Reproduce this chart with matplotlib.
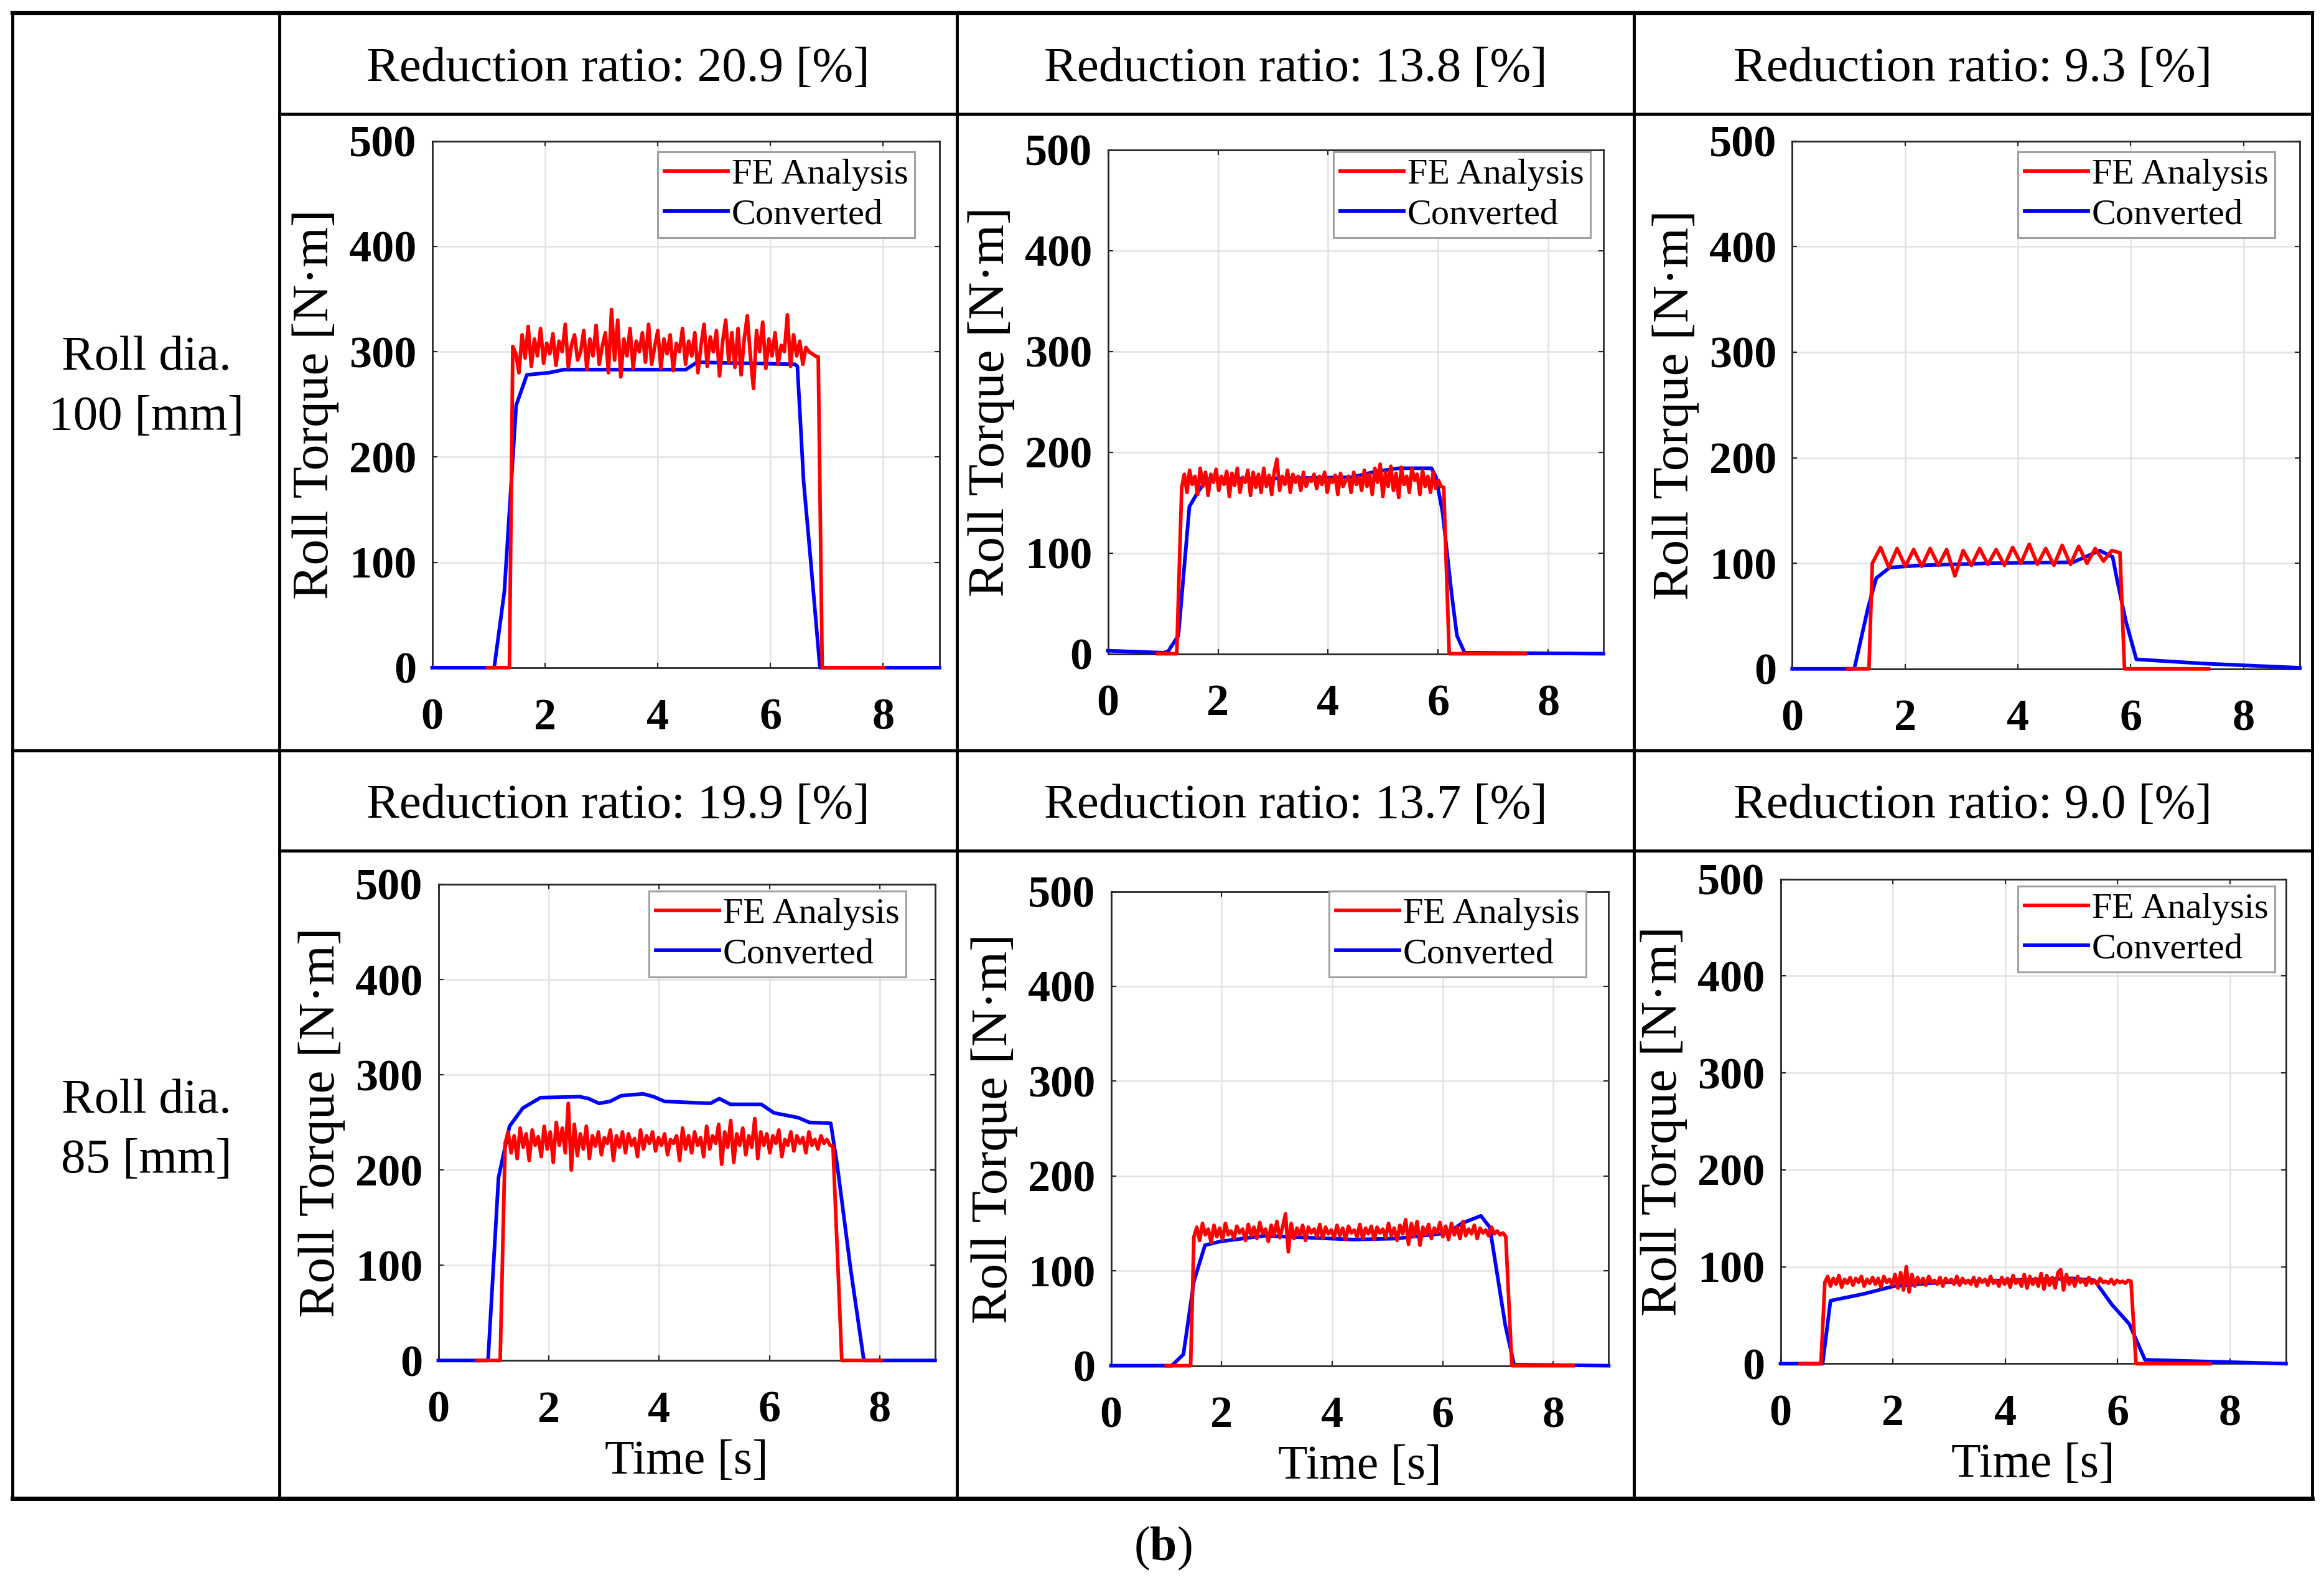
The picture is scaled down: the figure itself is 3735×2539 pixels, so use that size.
import numpy as np
import matplotlib
matplotlib.use("Agg")
import matplotlib.pyplot as plt
from matplotlib.lines import Line2D

W, H = 3735, 2539
DPI = 100

plt.rcParams["font.family"] = ["Liberation Serif", "DejaVu Serif"]
plt.rcParams["mathtext.fontset"] = "custom"
plt.rcParams["mathtext.rm"] = "Liberation Serif"
plt.rcParams["mathtext.bf"] = "Liberation Serif:bold"

ratios = ["20.9", "13.8", "9.3", "19.9", "13.7", "9.0"]
roll_dias = ["100", "85"]
xticks = [0, 2, 4, 6, 8]
yticks = [0, 100, 200, 300, 400, 500]

# Converted torque (blue), time [s] / torque [N*m]
conv_t = [
    [0, 1.10, 1.28, 1.49, 1.68, 2.07, 2.34, 4.50, 4.70, 6.44, 6.48, 6.59, 6.71, 6.88, 9.0],
    [0, 1.0, 1.09, 1.28, 1.48, 1.63, 1.80, 4.42, 4.89, 5.29, 5.88, 5.96, 6.08, 6.24, 6.34, 6.48, 9.0],
    [0, 1.10, 1.34, 1.49, 1.73, 2.27, 3.50, 4.98, 5.45, 5.68, 5.76, 5.91, 6.10, 7.30, 9.0],
    [0, 0.90, 1.09, 1.29, 1.53, 1.85, 2.56, 2.72, 2.91, 3.11, 3.31, 3.71, 3.90, 4.10, 4.93,
     5.09, 5.29, 5.85, 6.08, 6.52, 6.72, 7.11, 7.23, 7.47, 7.71, 9.0],
    [0, 1.10, 1.31, 1.50, 1.70, 1.98, 2.77, 3.56, 4.36, 5.15, 6.10, 6.34, 6.69, 6.85, 6.97, 7.13, 7.29, 9.0],
    [0, 0.75, 0.89, 1.48, 2.02, 2.87, 4.04, 5.20, 5.59, 5.90, 6.21, 6.49, 9.0],
]
conv_v = [
    [0, 0, 72, 249, 278, 280, 283, 283, 290, 288, 286, 177, 105, 0, 0],
    [3, 1, 2, 18, 146, 160, 173, 175, 181, 184, 184, 175, 140, 61, 18, 1, 0],
    [0, 0, 57, 86, 96, 98, 100, 101, 112, 106, 84, 46, 9, 5, 1],
    [0, 0, 192, 246, 265, 276, 277, 275, 270, 272, 278, 280, 277, 272, 270,
     275, 269, 269, 260, 255, 250, 249, 204, 96, 0, 0],
    [0, 0, 12, 89, 127, 131, 137, 135, 133, 134, 140, 150, 158, 146, 102, 43, 1, 0],
    [0, 0, 65, 72, 80, 84, 86, 88, 86, 61, 41, 4, 0],
]

# FE analysis (red): zero lead-in (start, rise), sampled plateau (first, last), zero tail (drop, end)
fe_lead = [(0.98, 1.37), (0.90, 1.25), (0.98, 1.36), (0.70, 1.12), (1.00, 1.44), (0.35, 0.72)]
fe_span = [(1.43, 6.85), (1.34, 6.10), (1.42, 5.81), (1.21, 7.15), (1.50, 7.14), (0.79, 6.24)]
fe_tail = [(6.92, 8.00), (6.20, 7.59), (5.89, 7.38), (7.31, 8.02), (7.25, 8.36), (6.33, 7.65)]

fe_vals = [
    [305, 298, 280, 316, 294, 324, 286, 312, 296, 322,
     289, 308, 298, 317, 287, 310, 300, 326, 285, 306,
     316, 292, 300, 320, 283, 312, 296, 325, 288, 305,
     318, 280, 340, 292, 330, 276, 312, 296, 322, 284,
     310, 300, 318, 290, 326, 288, 305, 320, 284, 312,
     298, 316, 282, 308, 300, 322, 288, 310, 296, 318,
     280, 306, 326, 286, 314, 300, 320, 277, 309, 330,
     290, 318, 285, 322, 278, 312, 334, 296, 265, 320,
     300, 328, 284, 312, 296, 318, 288, 306, 300, 335,
     286, 316, 296, 310, 288, 304, 300, 298, 296, 295],
    [165, 178, 160, 182, 168, 176, 158, 184, 166, 180,
     157, 178, 170, 183, 162, 176, 168, 181, 156, 179,
     167, 184, 160, 175, 170, 182, 157, 180, 165, 178,
     160, 184, 166, 177, 158, 181, 193, 162, 176, 168,
     182, 160, 178, 170, 176, 162, 180, 166, 174, 171,
     178, 164, 176, 168, 180, 160, 174, 170, 177, 158,
     179, 166, 172, 176, 160, 180, 168, 175, 162, 182,
     166, 178, 158, 184, 170, 188, 156, 180, 166, 186,
     162, 179, 155, 185, 168, 176, 160, 184, 172, 178,
     158, 182, 166, 176, 160, 180, 164, 172, 166, 165],
    [100, 115, 96, 114, 97, 113, 97, 114, 98, 113, 88, 112, 98, 114, 99, 113,
     98, 115, 100, 118, 99, 114, 98, 117, 99, 116, 100, 114, 102, 112, 110],
    [228, 240, 218, 236, 212, 244, 224, 238, 210, 242,
     226, 235, 214, 246, 222, 240, 208, 250, 226, 244,
     218, 270, 200, 248, 215, 238, 222, 246, 212, 236,
     225, 240, 216, 234, 228, 242, 210, 236, 224, 240,
     218, 238, 226, 233, 214, 242, 222, 236, 228, 240,
     220, 234, 226, 238, 216, 232, 228, 236, 210, 244,
     222, 236, 218, 240, 226, 234, 214, 246, 222, 236,
     228, 248, 206, 240, 224, 252, 208, 238, 226, 244,
     216, 236, 224, 254, 212, 240, 226, 238, 218, 236,
     228, 242, 214, 232, 226, 240, 220, 236, 228, 234,
     218, 240, 226, 232, 222, 236, 228, 232, 226, 225],
    [136, 146, 132, 150, 138, 144, 130, 148, 136, 145,
     133, 150, 138, 142, 134, 147, 140, 144, 132, 149,
     137, 146, 134, 151, 139, 144, 131, 148, 137, 152,
     135, 146, 160, 120, 150, 134, 145, 138, 148, 132,
     146, 140, 144, 136, 149, 134, 146, 139, 143, 135,
     148, 137, 145, 133, 147, 140, 143, 136, 149, 134,
     145, 139, 147, 133, 146, 140, 144, 135, 150, 137,
     145, 132, 148, 139, 154, 128, 150, 136, 152, 127,
     146, 138, 149, 134, 145, 140, 151, 136, 147, 133,
     150, 138, 146, 134, 152, 137, 144, 139, 148, 134,
     145, 140, 143, 137, 146, 139, 142, 138, 140, 136],
    [84, 90, 80, 88, 82, 91, 79, 87, 83, 89,
     81, 88, 84, 90, 80, 87, 83, 89, 82, 88,
     79, 90, 84, 87, 81, 92, 78, 94, 76, 100,
     74, 92, 80, 89, 83, 88, 81, 90, 84, 86,
     82, 89, 80, 88, 84, 87, 82, 90, 81, 88,
     83, 86, 82, 89, 80, 88, 84, 87, 81, 90,
     83, 86, 80, 89, 82, 88, 79, 91, 83, 87,
     80, 92, 78, 90, 82, 88, 80, 93, 77, 91,
     81, 89, 78, 94, 97, 76, 92, 82, 88, 80,
     90, 84, 87, 81, 89, 83, 86, 82, 88, 84,
     85, 83, 87, 82, 86, 84, 85, 83, 86, 85],
]

# layout in pixels of the reference image
axes_px = [(694.6, 226.6, 1509.8, 1072.9), (1780.6, 240.6, 2576.8, 1050.5),
           (2880.4, 226.6, 3696.3, 1074.8), (704.5, 1421.0, 1502.8, 2186.3),
           (1785.5, 1432.5, 2585.3, 2194.6), (2861.5, 1412.7, 3673.9, 2191.4)]
legend_px = [(1470, 244), (2556, 244), (3656, 244), (1456, 1432), (2549, 1432), (3656, 1424)]
col_x = [20, 449, 1538, 2626, 3716]
row_y = [21, 183, 1206, 1367, 2408]


def fx(x):
    return x / W


def fy(y):
    return 1 - y / H


def hline(fig, y, x0, x1, lw=3.5):
    fig.add_artist(Line2D([fx(x0), fx(x1)], [fy(y), fy(y)], transform=fig.transFigure,
                          color="black", lw=lw, solid_capstyle="projecting"))


def vline(fig, x, y0, y1, lw=3.5):
    fig.add_artist(Line2D([fx(x), fx(x)], [fy(y0), fy(y1)], transform=fig.transFigure,
                          color="black", lw=lw, solid_capstyle="projecting"))


def draw_table(fig):
    hline(fig, row_y[0], col_x[0], col_x[-1], lw=4.5)
    hline(fig, row_y[1], col_x[1], col_x[-1])
    hline(fig, row_y[2], col_x[0], col_x[-1])
    hline(fig, row_y[3], col_x[1], col_x[-1])
    hline(fig, row_y[4], col_x[0], col_x[-1], lw=5)
    for x in col_x:
        vline(fig, x, row_y[0], row_y[4])

    for r in range(2):
        cy = (row_y[2 * r + 0] + row_y[2 * r + 1]) / 2 + 9
        for c in range(3):
            cx = (col_x[c + 1] + col_x[c + 2]) / 2
            fig.text(fx(cx), fy(cy), f"Reduction ratio: {ratios[3 * r + c]} [%]",
                     ha="center", va="center", fontsize=57)
        my = (row_y[2 * r] + row_y[2 * r + 2]) / 2 + 10
        fig.text(fx(235), fy(my), f"Roll dia.\n{roll_dias[r]} [mm]", ha="center",
                 va="center", fontsize=57, linespacing=1.45)


def draw_panel(fig, i):
    l, t, r, b = axes_px[i]
    ax = fig.add_axes([fx(l), fy(b), (r - l) / W, (b - t) / H])

    lead, span, tail = fe_lead[i], fe_span[i], fe_tail[i]
    fe_t = [lead[0], lead[1]] + list(np.linspace(span[0], span[1], len(fe_vals[i]))) + [tail[0], tail[1]]
    fe_v = [0, 0] + fe_vals[i] + [0, 0]

    h_conv, = ax.plot(conv_t[i], conv_v[i], color="#0000ff", lw=4.2, clip_on=False, zorder=3)
    h_fe, = ax.plot(fe_t, fe_v, color="#ff0000", lw=4.2, clip_on=False, zorder=3)

    ax.set_xlim(0, 9)
    ax.set_ylim(0, 500)
    ax.set_xticks(xticks)
    ax.set_yticks(yticks)
    ax.grid(True, color="#e2e2e2", lw=1.8)
    ax.set_axisbelow(True)
    for s in ax.spines.values():
        s.set_color("#262626")
        s.set_linewidth(2)
    ax.tick_params(direction="in", length=6, width=1.5, color="#262626",
                   top=True, right=True, labelsize=52)
    ax.tick_params(axis="x", pad=35)
    ax.tick_params(axis="y", pad=18)
    plt.setp(ax.get_xticklabels() + ax.get_yticklabels(), fontweight="bold")

    lx, ly = legend_px[i]
    leg = ax.legend([h_fe, h_conv], ["FE Analysis", "Converted"], loc="upper right",
                    bbox_to_anchor=((lx - l) / (r - l), (b - ly) / (b - t)), borderaxespad=0,
                    fontsize=42, fancybox=False, framealpha=1, edgecolor="#a0a0a0",
                    handlelength=1.75, handletextpad=0.1, labelspacing=0.2, borderpad=0.18)
    leg.get_frame().set_linewidth(2.2)

    fig.text(fx(l - 187), fy((t + b) / 2), "Roll Torque [N\u00b7m]", rotation=90,
             ha="center", va="center", fontsize=60)
    if i >= 3:
        fig.text(fx((l + r) / 2), fy(b + 163), "Time [s]", ha="center", va="center", fontsize=56)


def main():
    fig = plt.figure(figsize=(W / DPI, H / DPI), dpi=DPI)
    draw_table(fig)
    for i in range(6):
        draw_panel(fig, i)
    fig.text(fx(1869), fy(2488), r"($\mathbf{b}$)", ha="center", va="center", fontsize=56)
    fig.savefig("out.png", dpi=DPI, facecolor="white")


if __name__ == "__main__":
    main()
